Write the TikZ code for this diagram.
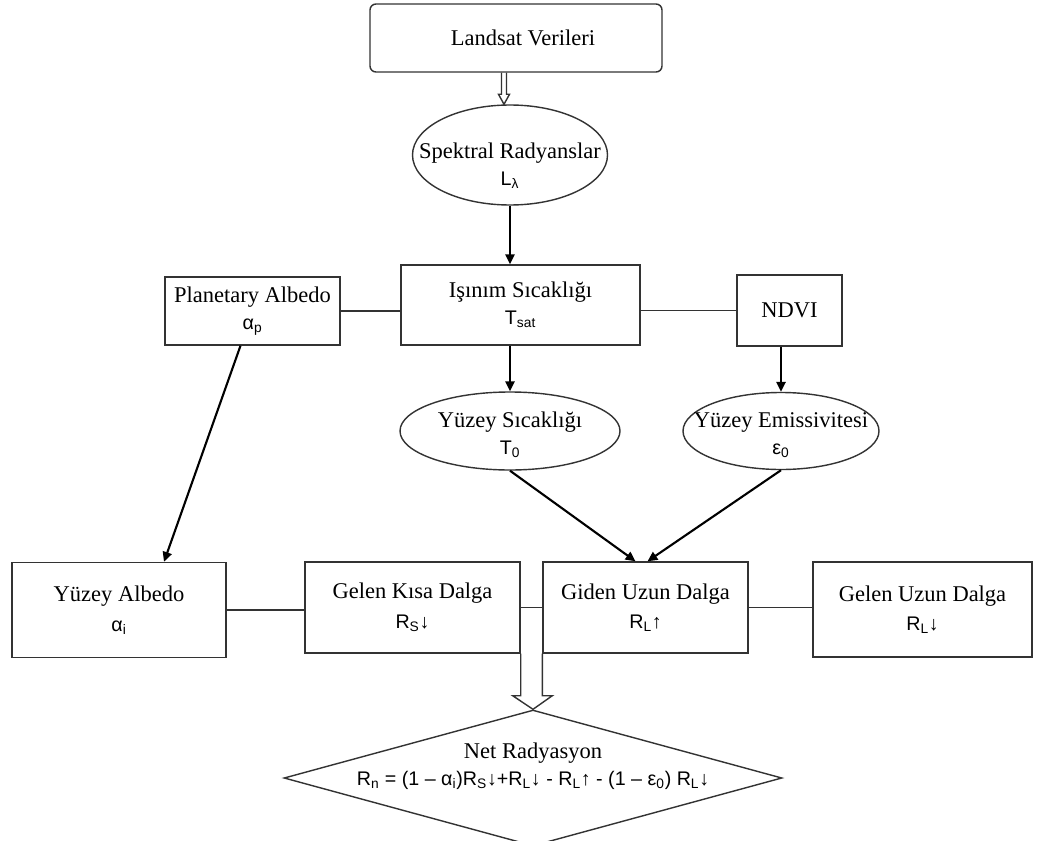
\documentclass[tikz,border=0pt]{standalone}
\usepackage{fontspec}
\setmainfont{Liberation Serif}
\setsansfont{Liberation Sans}
\usetikzlibrary{arrows.meta,shapes.geometric,calc}
\newlength\pxu
\setlength\pxu{0.025cm}
\newcommand\simge[1]{{\sffamily\fontsize{14}{16}\selectfont #1}}
\tikzset{
	kutu/.style={draw=black!80, line width=1pt, inner sep=0pt, align=center, font=\fontsize{16}{19}\selectfont},
	elips/.style={draw=black!80, line width=1pt, inner sep=0pt, ellipse},
	yazi/.style={inner sep=0pt, align=center, font=\fontsize{16}{19}\selectfont},
	ok/.style={line width=1.5pt, -{Triangle[length=7pt,width=6.5pt]}},
	cizgi/.style={draw=black!80, line width=1pt},
	bos/.style={draw=black!80, line width=1pt, line join=miter}
}
\begin{document}
\begin{tikzpicture}[x=0.025cm, y=-0.025cm]
		\fill[white] (0,0) rectangle (1039,841);
		\useasboundingbox (0,0) rectangle (1039,841);
		% Landsat
		\node[kutu, rounded corners=6\pxu, minimum width=292\pxu, minimum height=68\pxu] (landsat) at (516,38) {\hspace*{14\pxu}Landsat Verileri};
		\node[elips, minimum width=195\pxu, minimum height=100\pxu] (spektral) at (510,155) {};
		\node[yazi] (spektral-y) at (510,166) {Spektral Radyanslar\\\simge{L\textsubscript{λ}}};
		% orta sira
		\node[kutu, minimum width=175\pxu, minimum height=68\pxu] (planetary) at (252.5,311) {Planetary Albedo\\\simge{α\textsubscript{p}}};
		\node[kutu, minimum width=239\pxu, minimum height=80\pxu] (isinim) at (520.5,305) {Işınım Sıcaklığı\\\simge{T\textsubscript{sat}}};
		\node[kutu, minimum width=105\pxu, minimum height=71\pxu] (ndvi) at (789.5,310.5) {NDVI};
		\node[elips, minimum width=220\pxu, minimum height=78\pxu] (yuzsic) at (510,431) {};
		\node[yazi] (yuzsic-y) at (510,435) {Yüzey Sıcaklığı\\\simge{T\textsubscript{0}}};
		\node[elips, minimum width=196\pxu, minimum height=77\pxu] (yuzemi) at (781,431) {};
		\node[yazi] (yuzemi-y) at (781,435) {Yüzey Emissivitesi\\\simge{ε\textsubscript{0}}};
		% alt sira
		\node[kutu, minimum width=214\pxu, minimum height=95\pxu] (yuzalb) at (119,610) {Yüzey Albedo\\[2pt]\simge{α\textsubscript{i}}};
		\node[kutu, minimum width=215\pxu, minimum height=91\pxu] (gelkisa) at (412.5,607.5) {Gelen Kısa Dalga\\[2pt]\simge{R\textsubscript{S}↓}};
		\node[kutu, minimum width=205\pxu, minimum height=91\pxu] (giden) at (645.5,607.5) {Giden Uzun Dalga\\[2pt]\simge{R\textsubscript{L}↑}};
		\node[kutu, minimum width=219\pxu, minimum height=95\pxu] (gelenuzun) at (922.5,609.5) {Gelen Uzun Dalga\\[2pt]\simge{R\textsubscript{L}↓}};
		% Net Radyasyon
		\node[elips, diamond, minimum width=498\pxu, minimum height=136\pxu] (netrad) at (533,778) {};
		\node[yazi] (netrad-y) at (533,766) {Net Radyasyon\\\simge{R\textsubscript{n} = (1 – α\textsubscript{i})R\textsubscript{S}↓+R\textsubscript{L}↓ - R\textsubscript{L}↑ - (1 – ε\textsubscript{0}) R\textsubscript{L}↓}};
		% bos oklar
		\coordinate (ust) at ($(spektral.north)+(-6,0)$);
		\draw[bos] ($(ust|-landsat.south)+(-2.5,0)$) -- ($(ust)+(-2.5,-10)$) -- ($(ust)+(-5.5,-10)$) -- (ust) -- ($(ust)+(5.5,-10)$) -- ($(ust)+(2.5,-10)$) -- ($(ust|-landsat.south)+(2.5,0)$);
		\draw[bos] (gelkisa.south east) -- ($(gelkisa.south east)+(0,42)$) -- ++(-8,0) -- (netrad.north) -- ($(giden.south west)+(10,42)$) -- ++(-10,0) -- (giden.south west);
		% oklar
		\draw[ok] (spektral.south) -- (spektral.south |- isinim.north);
		\draw[ok] (yuzsic.north |- isinim.south) -- (yuzsic.north);
		\draw[ok] (yuzemi.north |- ndvi.south) -- (yuzemi.north);
		\draw[ok] ([xshift=-12\pxu]planetary.south) -- ([xshift=45\pxu]yuzalb.north);
		\draw[ok] (yuzsic.south) -- ([xshift=-10\pxu]giden.north);
		\draw[ok] (yuzemi.south) -- ([xshift=2\pxu]giden.north);
		% cizgiler
		\draw[cizgi] (planetary.east) -- (planetary.east -| isinim.west);
		\draw[cizgi] (ndvi.west -| isinim.east) -- (ndvi.west);
		\draw[cizgi] (yuzalb.east) -- (yuzalb.east -| gelkisa.west);
		\draw[cizgi] (gelkisa.east) -- (giden.west);
		\draw[cizgi] (giden.east) -- (giden.east -| gelenuzun.west);
\end{tikzpicture}
\end{document}
